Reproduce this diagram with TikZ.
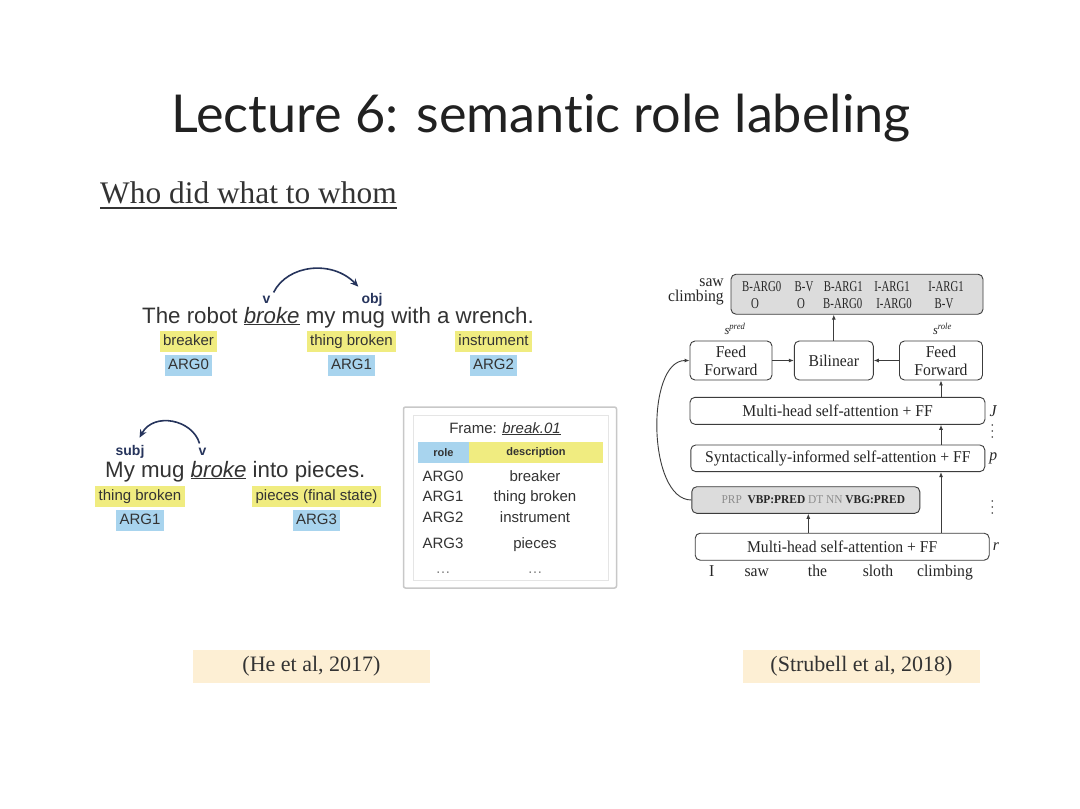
\documentclass[tikz,border=0pt]{standalone}
\usepackage{fontspec}
\setmainfont{Liberation Serif}
\newfontfamily\titlefont[Ligatures=NoCommon]{Lato}
\newfontfamily\helv{Liberation Sans}
\newfontfamily\figserif[FakeStretch=0.95]{Liberation Serif}
\newfontfamily\tagserif[FakeStretch=0.72]{Liberation Serif}
\usetikzlibrary{arrows.meta,%
                positioning}

\definecolor{hlyellow}{RGB}{240,236,128}
\definecolor{hlblue}{RGB}{168,212,238}
\definecolor{arcnavy}{RGB}{38,52,92}
\definecolor{textgrey}{RGB}{51,51,51}
\definecolor{capbeige}{RGB}{253,239,212}
\definecolor{boxgrey}{RGB}{220,220,220}
\definecolor{lineblk}{RGB}{60,60,60}
\definecolor{framegrey}{RGB}{200,200,200}

\begin{document}
\begin{tikzpicture}[x=1pt,y=-1pt,
  ylw/.style={fill=hlyellow, inner xsep=3.5pt, inner ysep=0pt, minimum height=21pt,
    text height=11pt, text depth=3pt, font=\helv\fontsize{15}{18}\selectfont, text=textgrey},
  blu/.style={ylw, fill=hlblue},
  dep/.style={anchor=base, inner sep=1pt, font=\helv\bfseries\fontsize{14}{16}\selectfont, text=arcnavy},
  deparc/.style={draw=arcnavy, line width=1.6pt, -{Stealth[length=8pt,width=7pt]}},
  tblrow/.style={anchor=base, inner sep=0pt, font=\helv\fontsize{15}{18}\selectfont, text=textgrey},
  blk/.style={draw=lineblk, rounded corners=5pt, line width=0.9pt, inner sep=0pt,
    font=\figserif\fontsize{16.5}{17}\selectfont, text=black!85},
  gry/.style={blk, fill=boxgrey},
  tagtxt/.style={anchor=base, inner sep=0pt, font=\tagserif\fontsize{15}{16}\selectfont, text=black!85},
  word/.style={anchor=base, inner sep=0pt, font=\figserif\fontsize{16.5}{18}\selectfont, text=black!85},
  fwd/.style={draw=lineblk, line width=0.9pt, -{Latex[length=5pt,width=4pt]}},
  vdot/.style={fill=black!75, circle, inner sep=0pt, minimum size=1.8pt},
  citebox/.style={fill=capbeige, minimum width=237pt, minimum height=33pt,
    font=\fontsize{22}{26}\selectfont, text=textgrey}]
\fill[white] (0,0) rectangle (1080,809);
\useasboundingbox (0,0) rectangle (1080,809);

\node[anchor=base, font=\titlefont\fontsize{52.2}{58}\selectfont, text=black!87] (title) at (541,132) {Lecture 6: semantic role labeling};
\node[anchor=base west, inner sep=0pt, font=\fontsize{31.4}{34}\selectfont, text=textgrey] (sub) at (100,203) {Who did what to whom};
\draw[textgrey, line width=1.3pt] ([yshift=-5pt]sub.base west) -- ([yshift=-5pt]sub.base east);

% first sentence
\node[anchor=base west, inner sep=0pt, font=\helv\fontsize{22.3}{26}\selectfont, text=textgrey] (sent1) at (142,323) {The robot \underline{\textit{broke}} my mug with a wrench.};
\node[dep] (v1) at (266.5,303) {v};
\node[dep] (obj1) at (372,303) {obj};
\draw[deparc] ([xshift=2pt,yshift=2pt]v1.north east) .. controls +(14,-28) and +(-26,-27) .. ([xshift=-2pt,yshift=5pt]obj1.north west);
\node[ylw] (brk1) at (188.5,341.5) {breaker};
\node[blu, below=3pt of brk1] (argA) {ARG0};
\node[ylw] (thb1) at (351.5,341.5) {thing broken};
\node[blu, below=3pt of thb1] (argB) {ARG1};
\node[ylw] (ins1) at (493.5,341.5) {instrument};
\node[blu, below=3pt of ins1] (argC) {ARG2};

% second sentence
\node[anchor=base west, inner sep=0pt, font=\helv\fontsize{22.3}{26}\selectfont, text=textgrey] (sent2) at (105,477) {My mug \underline{\textit{broke}} into pieces.};
\node[dep] (subj2) at (130,455) {subj};
\node[dep] (v2) at (202.5,455) {v};
\draw[deparc] ([xshift=-3pt,yshift=3pt]v2.north) .. controls +(-7,-24) and +(14,-26) .. ([xshift=-6pt,yshift=6pt]subj2.north east);
\node[ylw] (thb2) at (140,496.5) {thing broken};
\node[blu, below=3pt of thb2] (argD) {ARG1};
\node[ylw] (pcs2) at (316.5,496.5) {pieces (final state)};
\node[blu, below=3pt of pcs2] (argE) {ARG3};

% frame table
\node[draw=framegrey, line width=1.5pt, rounded corners=2pt, minimum width=213pt, minimum height=181pt] (frame) at (510,497.5) {};
\node[draw=black!10, line width=0.8pt, minimum width=195pt, minimum height=165pt] (frin) at (510.5,497.5) {};
\node[tblrow] (ftitle) at (505,433) {Frame: \underline{\textit{break.01}}};
\node[fill=hlblue, minimum width=51pt, minimum height=21.5pt, inner sep=0pt, font=\helv\bfseries\fontsize{11}{13}\selectfont, text=textgrey] (hrole) at (443.5,452.5) {role};
\node[fill=hlyellow, minimum width=134pt, minimum height=21.5pt, inner sep=0pt, font=\helv\bfseries\fontsize{11}{13}\selectfont, text=textgrey] (hdesc) at (536,452.5) {description};
\node[tblrow] (r0a) at (443,481) {ARG0};
\node[tblrow] (r0b) at (535,481) {breaker};
\node[tblrow] (r1a) at (443,501.7) {ARG1};
\node[tblrow] (r1b) at (535,501.7) {thing broken};
\node[tblrow] (r2a) at (443,522.7) {ARG2};
\node[tblrow] (r2b) at (535,522.7) {instrument};
\node[tblrow] (r3a) at (443,548.3) {ARG3};
\node[tblrow] (r3b) at (535,548.3) {pieces};
\node[tblrow, text=black!50] (r4a) at (443,573) {\dots};
\node[tblrow, text=black!50] (r4b) at (535,573) {\dots};

% network
\node[gry, minimum width=252pt, minimum height=40pt] (tags) at (857,294.2) {};
\node[word, anchor=base east] (lsaw) at (724,286.7) {saw};
\node[word, anchor=base east] (lclimb) at (724,301.7) {climbing};
\node[tagtxt] (t1a) at (761.7,291.7) {B-ARG0};
\node[tagtxt] (t2a) at (804,291.7) {B-V};
\node[tagtxt] (t3a) at (843.3,291.7) {B-ARG1};
\node[tagtxt] (t4a) at (892,291.7) {I-ARG1};
\node[tagtxt] (t5a) at (946,291.7) {I-ARG1};
\node[tagtxt] (t1b) at (755,308.3) {O};
\node[tagtxt] (t2b) at (801,308.3) {O};
\node[tagtxt] (t3b) at (842.7,308.3) {B-ARG0};
\node[tagtxt] (t4b) at (894,308.3) {I-ARG0};
\node[tagtxt] (t5b) at (944,308.3) {B-V};
\node[blk, minimum width=82pt, minimum height=39pt, align=center] (ffpred) at (731,360.5) {Feed\\[1pt]Forward};
\node[blk, minimum width=79pt, minimum height=39pt] (bilin) at (833.8,360.5) {Bilinear};
\node[blk, minimum width=83pt, minimum height=39pt, align=center] (ffrole) at (941,360.5) {Feed\\[1pt]Forward};
\node[word, font=\figserif\fontsize{13}{14}\selectfont] (spred) at (735,334) {\textit{s}\textsuperscript{\textit{pred}}};
\node[word, font=\figserif\fontsize{13}{14}\selectfont] (srole) at (942.5,334) {\textit{s}\textsuperscript{\textit{role}}};
\node[blk, minimum width=295pt, minimum height=27pt] (mhatt) at (837.5,410.8) {Multi-head self-attention + FF};
\node[blk, minimum width=294pt, minimum height=26.7pt] (synatt) at (837.8,458.3) {Syntactically-informed self-attention + FF};
\node[gry, minimum width=228pt, minimum height=26.6pt, font=\figserif\fontsize{12}{14}\selectfont] (postag) at (805.8,500) {\hspace*{15pt}\textcolor{black!45}{PRP}\ \ \textbf{VBP:PRED}\ \textcolor{black!45}{DT NN} \textbf{VBG:PRED}};
\node[blk, minimum width=294pt, minimum height=27pt] (mhbot) at (842.2,546.7) {Multi-head self-attention + FF};
\node[word, right=4pt of mhatt] (lblJ) {\textit{J}};
\node[word, right=4pt of synatt] (lblp) {\textit{p}};
\node[word, right=3pt of mhbot] (lblr) {\textit{r}};
\coordinate (dotsA) at (992.3,431);
\coordinate (dotsB) at (992.3,507);
\node[vdot] at ([yshift=6pt]dotsA) {};
\node[vdot] at (dotsA) {};
\node[vdot] at ([yshift=-6pt]dotsA) {};
\node[vdot] at ([yshift=6pt]dotsB) {};
\node[vdot] at (dotsB) {};
\node[vdot] at ([yshift=-6pt]dotsB) {};
\node[word] (wI) at (711.7,576.7) {I};
\node[word] (wsaw) at (756.7,576.7) {saw};
\node[word] (wthe) at (817.5,576.7) {the};
\node[word] (wsloth) at (878,576.7) {sloth};
\node[word] (wclimb) at (945,576.7) {climbing};
\draw[fwd] (bilin.north) -- (bilin.north |- tags.south);
\draw[fwd] (ffpred) -- (bilin);
\draw[fwd] (ffrole) -- (bilin);
\draw[fwd] (ffrole.south |- mhatt.north) -- (ffrole.south);
\draw[fwd] (ffrole.south |- synatt.north) -- (ffrole.south |- mhatt.south);
\draw[fwd] (ffrole.south |- mhbot.north) -- (ffrole.south |- synatt.south);
\draw[fwd] ([xshift=2.5pt]postag.south |- mhbot.north) -- ([xshift=2.5pt]postag.south);
\draw[fwd] (postag.west) .. controls +(-44,0) and +(-44,0) .. (ffpred.west);

\node[citebox] (cite1) at (311.5,666.5) {(He et al, 2017)};
\node[citebox] (cite2) at (861.5,666.5) {(Strubell et al, 2018)};
\end{tikzpicture}
\end{document}
